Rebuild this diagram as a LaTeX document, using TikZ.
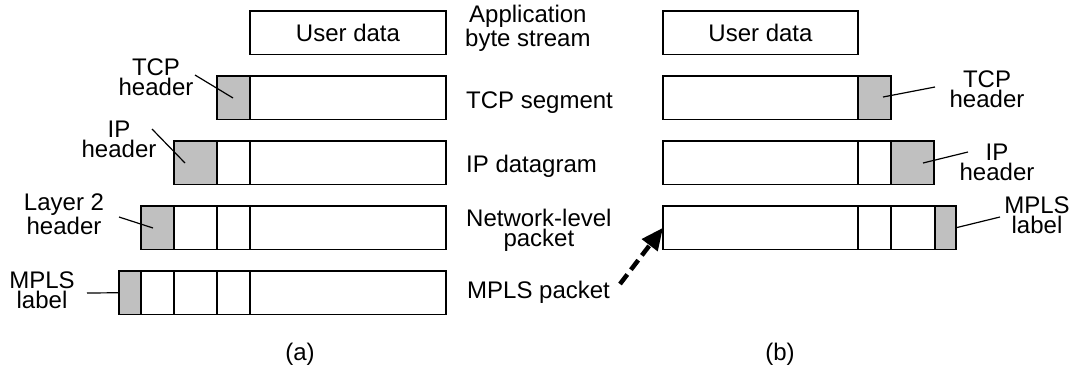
\documentclass[tikz,border=0pt]{standalone}
\usepackage{fontspec}
\setmainfont{Liberation Sans}
\usetikzlibrary{arrows.meta}
\definecolor{hdrgray}{RGB}{192,192,192}
\begin{document}
\begin{tikzpicture}[x=1pt,y=-1pt,
  cell/.style={draw=black, line width=1.5pt, fill=white, minimum height=43.5pt,
    inner sep=0pt, outer sep=0pt, anchor=north west, font=\fontsize{24}{20}\selectfont},
  hdr/.style={cell, fill=hdrgray},
  lbl/.style={font=\fontsize{24}{20}\selectfont, align=center, inner sep=0pt, anchor=base},
  lead/.style={line width=1.2pt},
  bigarrow/.style={line width=4.5pt, dash pattern=on 12pt off 6pt,
    -{Triangle[length=22pt,width=19pt]}}]
\useasboundingbox (0,0) rectangle (1073,370);

% ---------- (a) ----------
\node[cell, minimum width=196pt] (aUD) at (250,11) {User data};

\node[hdr,  minimum width=33pt]  (aTcpH) at (217,76) {};
\node[cell, minimum width=196pt] (aTcpD) at (250,76) {};

\node[hdr,  minimum width=43pt]  (aIpH) at (174,141) {};
\node[cell, minimum width=33pt]  (aIpT) at (217,141) {};
\node[cell, minimum width=196pt] (aIpD) at (250,141) {};

\node[hdr,  minimum width=33pt]  (aL2H) at (141,206) {};
\node[cell, minimum width=43pt]  (aL2I) at (174,206) {};
\node[cell, minimum width=33pt]  (aL2T) at (217,206) {};
\node[cell, minimum width=196pt] (aL2D) at (250,206) {};

\node[hdr,  minimum width=22pt]  (aMpH) at (119,271) {};
\node[cell, minimum width=33pt]  (aMpL2) at (141,271) {};
\node[cell, minimum width=43pt]  (aMpI) at (174,271) {};
\node[cell, minimum width=33pt]  (aMpT) at (217,271) {};
\node[cell, minimum width=196pt] (aMpD) at (250,271) {};

% labels (a)  (base = baseline of last line)
\node[lbl] (aTcpLab) at (156,95)  {TCP\\header};
\node[lbl] (aIpLab)  at (119,157) {IP\\header};
\node[lbl] (aL2Lab)  at (64,234)  {Layer 2\\header};
\node[lbl] (aMpLab)  at (42,308)  {MPLS\\label};
\node[lbl] (capA)    at (300,360) {(a)};

\coordinate (aTcpS) at (195,75);  \coordinate (aTcpE) at (233,98);
\coordinate (aIpS)  at (152,129); \coordinate (aIpE)  at (185,163);
\coordinate (aL2S)  at (119,217); \coordinate (aL2E)  at (153,228);
\coordinate (aMpS)  at (87,293);
\draw[lead] (aTcpS) -- (aTcpE);
\draw[lead] (aIpS) -- (aIpE);
\draw[lead] (aL2S) -- (aL2E);
\draw[lead] (aMpS) -- (aMpH.west);

% ---------- middle ----------
\node[lbl, anchor=base west] (mApp) at (465,46)  {Application\\byte stream};
\node[lbl, anchor=base west] (mTcp) at (466,108) {TCP segment};
\node[lbl, anchor=base west] (mIp)  at (466,172) {IP datagram};
\node[lbl, anchor=base west] (mNet) at (466,246) {Network-level\\packet};
\node[lbl, anchor=base west] (mMp)  at (467,298) {MPLS packet};

% ---------- (b) ----------
\node[cell, minimum width=195pt] (bUD) at (663,11) {User data};

\node[cell, minimum width=195pt] (bTcpD) at (663,76) {};
\node[hdr,  minimum width=33pt]  (bTcpH) at (858,76) {};

\node[cell, minimum width=195pt] (bIpD) at (663,141) {};
\node[cell, minimum width=33pt]  (bIpT) at (858,141) {};
\node[hdr,  minimum width=43pt]  (bIpH) at (891,141) {};

\node[cell, minimum width=195pt] (bMpD) at (663,206) {};
\node[cell, minimum width=33pt]  (bMpT) at (858,206) {};
\node[cell, minimum width=44pt]  (bMpI) at (891,206) {};
\node[hdr,  minimum width=21pt]  (bMpH) at (935,206) {};

\node[lbl] (bTcpLab) at (987,107)  {TCP\\header};
\node[lbl] (bIpLab)  at (997,180)  {IP\\header};
\node[lbl] (bMpLab)  at (1037,233) {MPLS\\label};
\node[lbl] (capB)    at (780,360)  {(b)};

\coordinate (bTcpS) at (935,87);  \coordinate (bTcpE) at (883,97);
\coordinate (bIpS)  at (968,152); \coordinate (bIpE)  at (923,163);
\coordinate (bMpS)  at (1000,217);
\draw[lead] (bTcpS) -- (bTcpE);
\draw[lead] (bIpS) -- (bIpE);
\draw[lead] (bMpS) -- (bMpH.east);

% dashed arrow
\coordinate (arrS) at (620,284);
\draw[bigarrow] (arrS) -- (bMpD.west);
\end{tikzpicture}
\end{document}
